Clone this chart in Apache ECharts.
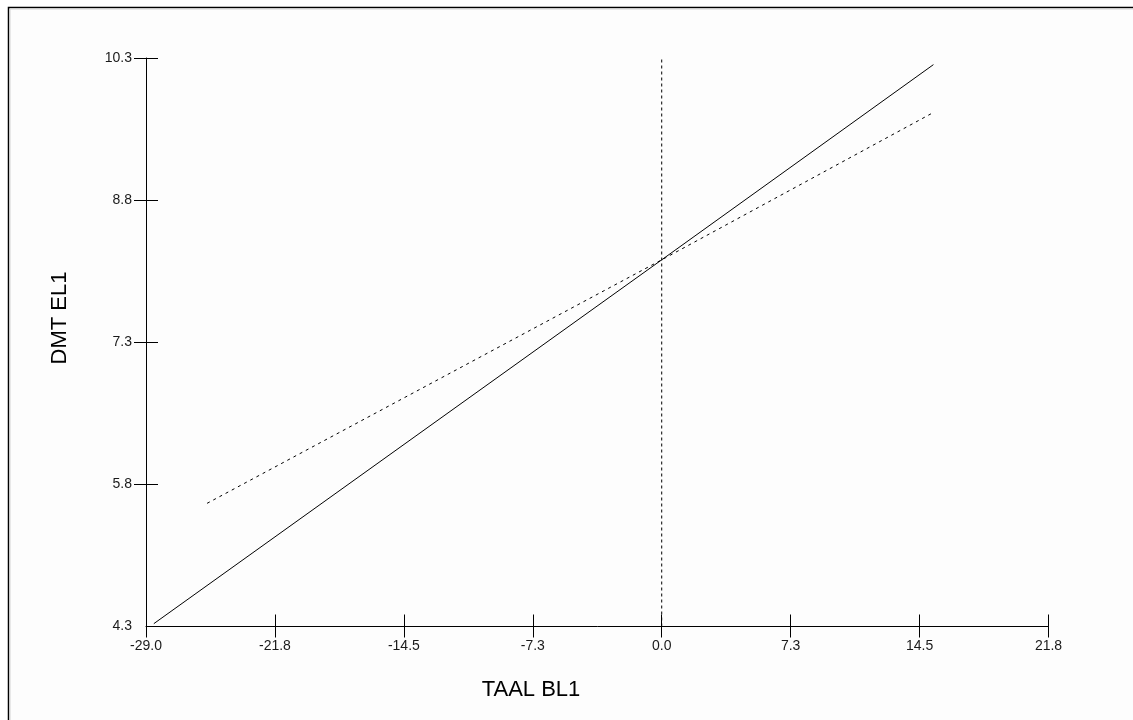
<!DOCTYPE html>
<html>
<head>
<meta charset="utf-8">
<script src="https://cdn.jsdelivr.net/npm/echarts@6/dist/echarts.min.js"></script>
<style>
  html, body { margin: 0; padding: 0; background: #ffffff; }
  #chart { width: 1133px; height: 720px; }
</style>
</head>
<body>
<div id="chart"></div>
<script>
// Tick positions on both axes
const xTicks = [-29.04, -21.78, -14.52, -7.26, 0, 7.26, 14.52, 21.78];
const yTicks = [4.3, 5.8, 7.3, 8.8, 10.3];

// Fitted lines: TAAL BL1 (x) against DMT EL1 (y)
const solidX = [-28.6, 0, 15.3];
const solidY = [4.33, 8.17, 10.23];
const dashedX = [-25.6, 0, 15.25];
const dashedY = [5.60, 8.17, 9.72];

// Reference line at x = 0
const refX = [0, 0];
const refY = [4.3, 10.29];

const xTitle = 'TAAL BL1';
const yTitle = 'DMT EL1';

const pairs = (xs, ys) => xs.map((x, i) => [x, ys[i]]);

const xMin = xTicks[0], xMax = xTicks[xTicks.length - 1];
const yMin = yTicks[0], yMax = yTicks[yTicks.length - 1];
const font = '"Liberation Sans", Arial, sans-serif';
const tickStyle = { color: '#000000', width: 1 };

const chart = echarts.init(document.getElementById('chart'), null, { renderer: 'canvas' });

const baseX = { type: 'value', min: xMin, max: xMax, splitLine: { show: false } };
const baseY = { type: 'value', min: yMin, max: yMax, splitLine: { show: false } };

chart.setOption({
  animation: false,
  backgroundColor: '#ffffff',
  graphic: [
    { type: 'rect', z: -10, shape: { x: 8.5, y: 7.5, width: 1200, height: 800 },
      style: { fill: '#fdfdfd', stroke: '#000000', lineWidth: 1.5 } },
    { type: 'rect', z: -9, shape: { x: 10, y: 9, width: 1200, height: 800 },
      style: { fill: 'none', stroke: '#d4d4d4', lineWidth: 1 } },
    { type: 'text', x: 531, y: 690,
      style: { text: xTitle, font: '22px ' + font, fill: '#000000',
               align: 'center', verticalAlign: 'middle' } },
    { type: 'text', x: 60, y: 318, rotation: Math.PI / 2,
      style: { text: yTitle, font: '22px ' + font, fill: '#000000',
               align: 'center', verticalAlign: 'middle' } }
  ],
  grid: { left: 146, top: 58, right: 84.5, bottom: 93.5, containLabel: false },
  xAxis: [
    Object.assign({}, baseX, {
      axisLine: { show: true, onZero: false, lineStyle: { color: '#000000', width: 1 } },
      axisTick: { show: true, inside: false, length: 11, customValues: xTicks, lineStyle: tickStyle },
      axisLabel: { show: true, customValues: xTicks, margin: 13,
                   formatter: v => v.toFixed(1),
                   fontFamily: font, fontSize: 14, color: '#1a1a1a' }
    }),
    Object.assign({}, baseX, {
      position: 'bottom',
      axisLine: { show: false, onZero: false },
      axisTick: { show: true, inside: true, length: 12, customValues: xTicks, lineStyle: tickStyle },
      axisLabel: { show: false }
    })
  ],
  yAxis: [
    Object.assign({}, baseY, {
      axisLine: { show: true, onZero: false, lineStyle: { color: '#000000', width: 1 } },
      axisTick: { show: true, inside: false, length: 12, customValues: yTicks.slice(1), lineStyle: tickStyle },
      axisLabel: { show: true, customValues: yTicks, margin: 14,
                   formatter: v => v.toFixed(1),
                   fontFamily: font, fontSize: 14, color: '#1a1a1a' }
    }),
    Object.assign({}, baseY, {
      position: 'left',
      axisLine: { show: false, onZero: false },
      axisTick: { show: true, inside: true, length: 12, customValues: yTicks.slice(1), lineStyle: tickStyle },
      axisLabel: { show: false }
    })
  ],
  series: [
    {
      type: 'line', data: pairs(solidX, solidY), symbol: 'none',
      lineStyle: { color: '#000000', width: 1 }
    },
    {
      type: 'line', data: pairs(dashedX, dashedY), symbol: 'none',
      lineStyle: { color: '#000000', width: 1, type: [3, 4] }
    },
    {
      type: 'line', data: pairs(refX, refY), symbol: 'none',
      lineStyle: { color: '#000000', width: 1, type: [3, 3] }
    }
  ]
});
</script>
</body>
</html>
